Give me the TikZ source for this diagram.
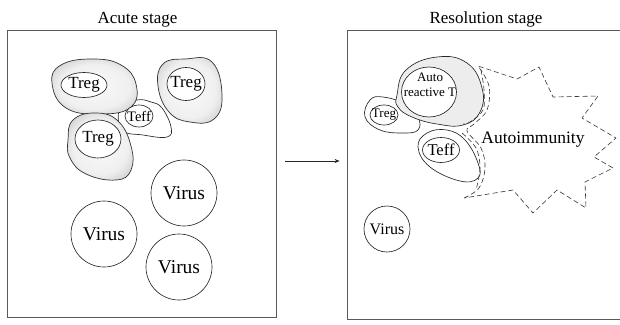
\documentclass[tikz,border=0pt]{standalone}
\usepackage{fontspec}
\setmainfont{Liberation Serif}
\usetikzlibrary{
    arrows.meta,
    positioning,
    shapes.geometric
}
\pgfdeclareradialshading{tregshade}{\pgfpoint{0bp}{0bp}}{color(0bp)=(gray!5); color(20bp)=(gray!12); color(38bp)=(gray!55); color(48bp)=(gray!72); color(72bp)=(gray!72)}
\newcommand{\cellname}[1]{\makebox[0pt]{#1}}
\tikzset{
  fs/.style         = {font=\fontsize{#1}{#1}\selectfont},
  stagebox/.style   = {draw=black!65, line width=0.8pt, inner sep=0pt},
  stagetitle/.style = {fs=17, inner sep=0pt},
  core/.style       = {ellipse, draw=black!85, line width=0.65pt, fill=white, inner sep=0pt},
  virus/.style      = {circle, draw=black!85, line width=0.65pt, inner sep=0pt},
  tregcell/.style   = {draw=black!80, line width=0.7pt, shading=tregshade},
  effcell/.style    = {draw=black!85, line width=0.65pt, fill=white},
  autocell/.style   = {draw=black!85, line width=0.65pt, fill=gray!14},
  immune/.style     = {draw=black!80, line width=0.6pt, dash pattern=on 5pt off 3pt, line join=round},
  arr/.style        = {-{Stealth[length=5pt, width=4pt]}, line width=0.6pt, black!85}
}

\begin{document}
\begin{tikzpicture}[x=1pt, y=-1pt]
    \useasboundingbox (0,0) rectangle (620,324);
    \clip (0,0) rectangle (620,324);

    % Stage frames and titles
    \node[stagebox, minimum width=269pt, minimum height=287pt] (acute) at (141.5,173.5) {};
    \node[stagebox, minimum width=278pt, minimum height=289pt] (resolution) at (486,174.5) {};
    \node[stagetitle, above=2.5pt of acute.north, xshift=-4pt] (acutetitle) {Acute stage};
    \node[stagetitle, above=2.5pt of resolution.north] (restitle) {Resolution stage};

    % Acute stage: effector held by Treg cells
    \filldraw[effcell] plot[smooth cycle, tension=0.7] coordinates
      {(120,108) (137,100) (151,102) (162,108) (171,127) (167,137) (143,135) (122,130)};
    \shadedraw[tregcell] plot[smooth cycle, tension=0.75] coordinates
      {(52,83) (61,65) (92,59) (121,65) (136,84) (131,107) (101,114) (66,108)};
    \shadedraw[tregcell] plot[smooth cycle, tension=0.75] coordinates
      {(158,86) (163,64) (185,59) (212,62) (222,95) (214,119) (190,122) (169,112)};
    \shadedraw[tregcell] plot[smooth cycle, tension=0.75] coordinates
      {(68,140) (73,120) (96,113) (118,121) (131,146) (131,170) (116,180) (86,174) (70,158)};
    \node[core, minimum width=46pt, minimum height=25pt, fs=17] (tregA) at (84,85) {\cellname{Treg}};
    \node[core, minimum width=38pt, minimum height=33pt, fs=17] (tregB) at (186,84) {\cellname{Treg}};
    \node[core, minimum width=46pt, minimum height=38pt, fs=17] (tregC) at (98,139) {\cellname{Treg}};
    \node[core, minimum width=28pt, minimum height=22pt, fs=14.5] (teffA) at (139,116) {\cellname{Teff}};

    % Acute stage: viruses
    \foreach \nm/\px/\py in {virA/184/193, virB/104/234, virC/179/267}
      \node[virus, minimum size=66pt, fs=19.5] (\nm) at (\px,\py) {Virus};

    % Resolution stage: cells
    \filldraw[effcell] plot[smooth cycle, tension=0.7] coordinates
      {(365,117) (370,100) (383,97) (405,104) (418,117) (418,130) (403,133) (380,130)};
    \filldraw[autocell] plot[smooth cycle, tension=0.75] coordinates
      {(397,95) (406,70) (437,57) (467,63) (482,88) (480,112) (463,125) (437,124) (412,117) (398,107)};
    \filldraw[effcell] plot[smooth cycle, tension=0.7] coordinates
      {(418,147) (427,133) (447,130) (465,140) (478,163) (478,178) (460,181) (430,167)};
    \node[core, minimum width=55pt, minimum height=50pt] (autoT) at (429,92) {};
    \node[font=\fontsize{13}{15}\selectfont, align=center, inner sep=0pt] (autolbl) at (430,85) {Auto\\reactive T};
    \node[core, minimum width=28pt, minimum height=20pt, fs=13] (tregD) at (384,115) {\cellname{Treg}};
    \node[core, minimum width=37pt, minimum height=25pt, fs=16.5] (teffB) at (441,150) {\cellname{Teff}};
    \node[virus, minimum size=46pt, fs=16] (virD) at (387,229) {Virus};

    % Autoimmunity burst
    \draw[immune] plot[smooth, tension=0.6] coordinates
      {(464,198) (479,188) (485,168) (481,148) (467,131) (474,124) (487,110) (489,86) (478,66)}
      -- (517,79) -- (539,67) -- (553,97) -- (598,96) -- (582,118) -- (616,138)
      -- (594,157) -- (613,168) -- (585,182) -- (586,208) -- (557,190) -- (533,213)
      -- (513,190) -- cycle;
    \draw[immune] plot[smooth, tension=0.6] coordinates
      {(481,70) (484,90) (483,110) (470,122) (463,124)};
    \draw[immune] plot[smooth, tension=0.6] coordinates
      {(462,133) (476,148) (480,168) (476,190)};
    \node[fs=17.5, inner sep=0pt] (autoim) at (533,140) {Autoimmunity};

    % Transition
    \draw[arr, shorten <=9pt, shorten >=7pt] ([yshift=12.5pt]acute.east) -- ([yshift=13.5pt]resolution.west);
\end{tikzpicture}
\end{document}
